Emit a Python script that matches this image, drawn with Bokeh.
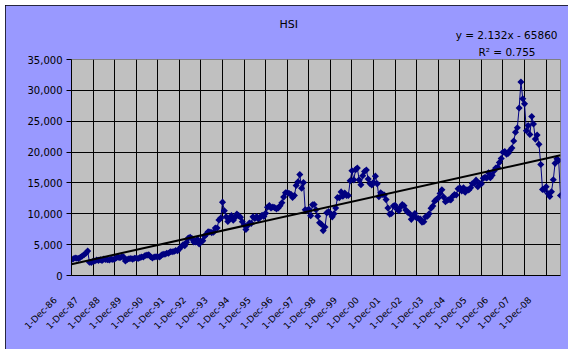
import pandas as pd
from bokeh.plotting import figure
from bokeh.models import FixedTicker, NumeralTickFormatter, Range1d, Title
from bokeh.embed import file_html
from bokeh.resources import INLINE

# ---------------- data ----------------
title_text = "HSI"
eq_text = "y = 2.132x - 65860"
r2_text = "R\u00b2 = 0.755"
trend_slope = 2.132
trend_intercept = -65860.0
start_month = "1986-12-01"

hsi_1986 = [2568]
hsi_1987 = [2700, 2850, 2800, 2750, 2950, 3150, 3350, 3600, 3950, 2150, 2100, 2300]
hsi_1988 = [2350, 2500, 2450, 2550, 2450, 2650, 2600, 2550, 2500, 2650, 2600, 2687]
hsi_1989 = [2900, 2950, 2900, 3050, 3000, 2350, 2600, 2700, 2750, 2650, 2800, 2837]
hsi_1990 = [2750, 2900, 3000, 3000, 3250, 3300, 3350, 3050, 2850, 3000, 3050, 3025]
hsi_1991 = [3000, 3300, 3450, 3450, 3600, 3600, 3850, 3850, 3900, 4050, 4000, 4297]
hsi_1992 = [4650, 4970, 4840, 5390, 6080, 6180, 5990, 5430, 5420, 5870, 5120, 5512]
hsi_1993 = [5650, 6350, 6700, 7100, 7050, 6950, 7000, 7700, 7700, 9000, 9300, 11888]
hsi_1994 = [10500, 9500, 8750, 9250, 9700, 8950, 9400, 9950, 9700, 9450, 8700, 8191]
hsi_1995 = [7450, 8100, 8500, 8450, 9500, 9250, 9550, 9150, 9450, 9750, 9550, 10073]
hsi_1996 = [11050, 11350, 10950, 11100, 11000, 10800, 10950, 11300, 11800, 12700, 13400, 13451]
hsi_1997 = [13300, 13150, 12650, 12950, 14600, 15200, 16350, 14150, 15050, 10650, 10550, 10723]
hsi_1998 = [9700, 11450, 11500, 10650, 9600, 8550, 8300, 7275, 7850, 10150, 10350, 10049]
hsi_1999 = [9500, 10000, 10950, 12650, 12600, 13550, 12850, 13350, 12950, 12950, 15350, 16962]
hsi_2000 = [15500, 17150, 17400, 15500, 14700, 16150, 16850, 17100, 15650, 14900, 14650, 15096]
hsi_2001 = [16100, 14850, 12750, 13400, 13150, 13050, 12300, 10950, 9950, 10050, 11250, 11397]
hsi_2002 = [10750, 10500, 11050, 11500, 11300, 10600, 10250, 10050, 9100, 9600, 10050, 9321]
hsi_2003 = [9250, 9150, 8650, 8700, 9500, 9600, 10000, 10900, 11250, 12050, 12300, 12576]
hsi_2004 = [13300, 13900, 12700, 11950, 12200, 12300, 12250, 12850, 13100, 13050, 14050, 14230]
hsi_2005 = [13700, 14200, 13500, 13900, 13850, 14200, 14900, 14900, 15450, 14400, 14950, 14876]
hsi_2006 = [15750, 15900, 15800, 16650, 15850, 16250, 16950, 17400, 17550, 18300, 18950, 19965]
hsi_2007 = [20100, 19650, 19800, 20300, 20650, 21800, 23200, 23950, 27150, 31350, 28650, 27813]
hsi_2008 = [23450, 24300, 22850, 25750, 24550, 22100, 22750, 21250, 18000, 13950, 13900, 14387]
hsi_2009 = [13280, 12810, 13580, 15520, 18170, 18900, 18640, 12960]

y_ticks = [0, 5000, 10000, 15000, 20000, 25000, 30000, 35000]
x_tick_labels = ["1-Dec-86", "1-Dec-87", "1-Dec-88", "1-Dec-89", "1-Dec-90", "1-Dec-91",
                 "1-Dec-92", "1-Dec-93", "1-Dec-94", "1-Dec-95", "1-Dec-96", "1-Dec-97",
                 "1-Dec-98", "1-Dec-99", "1-Dec-00", "1-Dec-01", "1-Dec-02", "1-Dec-03",
                 "1-Dec-04", "1-Dec-05", "1-Dec-06", "1-Dec-07", "1-Dec-08"]

# ---------------- build ----------------
values = (hsi_1986 + hsi_1987 + hsi_1988 + hsi_1989 + hsi_1990 + hsi_1991 + hsi_1992 +
          hsi_1993 + hsi_1994 + hsi_1995 + hsi_1996 + hsi_1997 + hsi_1998 + hsi_1999 +
          hsi_2000 + hsi_2001 + hsi_2002 + hsi_2003 + hsi_2004 + hsi_2005 + hsi_2006 +
          hsi_2007 + hsi_2008 + hsi_2009)

epoch = pd.Timestamp("1899-12-30")
months = pd.date_range(start_month, periods=len(values), freq="MS")
xs = [(m - epoch).days for m in months]

tick_serials = [(pd.Timestamp(f"{1986 + i}-12-01") - epoch).days for i in range(len(x_tick_labels))]

x0, x1 = xs[0], xs[-1]

p = figure(width=563, height=344, output_backend="svg", toolbar_location=None,
           x_range=Range1d(x0, x1), y_range=Range1d(0, 35000),
           min_border_left=66, min_border_right=8, min_border_top=54, min_border_bottom=74,
           background_fill_color="#C0C0C0", border_fill_color="#9999FF",
           outline_line_color="#808080", outline_line_width=1,
           margin=(5, 8, 6, 5),
           styles={"outline": "2px solid black", "outline-offset": "-2px"})

font = "DejaVu Sans"

# grids (black; the 0 line and first date line form the bottom/left frame edges)
p.xgrid.ticker = FixedTicker(ticks=tick_serials)
p.xgrid.grid_line_color = "black"
p.xgrid.grid_line_width = 1
p.ygrid.ticker = FixedTicker(ticks=y_ticks)
p.ygrid.grid_line_color = "black"
p.ygrid.grid_line_width = 1

# x axis: slanted date labels; Excel sets them a little before their gridline,
# reproduced with a no-break-space lead-out after each label
pad = "\u00a0" * 8
p.xaxis.ticker = FixedTicker(ticks=tick_serials)
p.xaxis.major_label_overrides = {s: lab + pad for s, lab in zip(tick_serials, x_tick_labels)}
p.xaxis.major_label_orientation = 0.785398
p.xaxis.major_tick_out = 0
p.xaxis.major_tick_in = 0
p.xaxis.minor_tick_out = 0
p.xaxis.minor_tick_in = 0
p.xaxis.axis_line_color = "black"
p.xaxis.major_label_text_font = font
p.xaxis.major_label_text_font_size = "9px"
p.xaxis.major_label_text_color = "black"
p.xaxis.major_label_standoff = 7

# y axis
p.yaxis.ticker = FixedTicker(ticks=y_ticks)
p.yaxis.formatter = NumeralTickFormatter(format="0,0")
p.yaxis.major_tick_out = 5
p.yaxis.major_tick_in = 0
p.yaxis.minor_tick_out = 0
p.yaxis.minor_tick_in = 0
p.yaxis.axis_line_color = "black"
p.yaxis.major_tick_line_color = "black"
p.yaxis.major_label_text_font = font
p.yaxis.major_label_text_font_size = "10px"
p.yaxis.major_label_text_color = "black"
p.yaxis.major_label_standoff = 4

# series
p.line(xs, values, line_color="#000080", line_width=1)
p.scatter(xs, values, marker="square", angle=0.785398, size=5,
          fill_color="#000080", line_color=None)

# trendline from equation
trend_x = [x0, x1]
trend_y = [trend_slope * x + trend_intercept for x in trend_x]
p.line(trend_x, trend_y, line_color="black", line_width=2)

# texts above the plot area (first added sits closest to the plot)
p.add_layout(Title(text=r2_text, align="right", offset=25, standoff=3,
                   text_font=font, text_font_size="10.5px", text_font_style="normal",
                   text_color="black"), "above")
p.add_layout(Title(text=eq_text, align="right", offset=3, standoff=3,
                   text_font=font, text_font_size="10.5px", text_font_style="normal",
                   text_color="black"), "above")
p.add_layout(Title(text=title_text, align="left", offset=208, standoff=-10,
                   text_font=font, text_font_size="11px", text_font_style="normal",
                   text_color="black"), "above")

open("out.html", "w").write(file_html(p, INLINE))
